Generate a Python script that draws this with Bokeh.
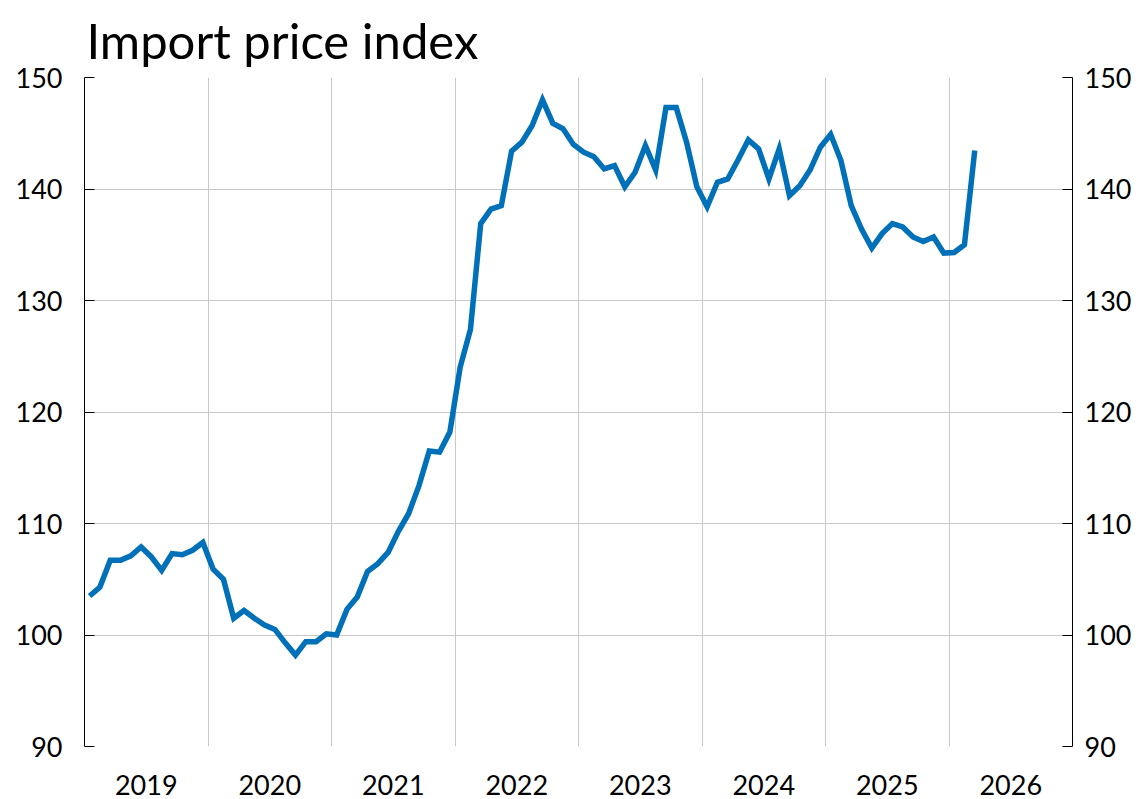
import pandas as pd
from bokeh.plotting import figure
from bokeh.models import LinearAxis, FixedTicker, Range1d
from bokeh.embed import file_html
from bokeh.resources import INLINE

# ---- data ----
months = [str(p) for p in pd.period_range("2019-01", periods=87, freq="M")]
import_price_index = [
    103.5, 104.3, 106.7, 106.7, 107.1, 107.9, 107.0, 105.8, 107.3, 107.2, 107.6, 108.3,   # 2019
    105.9, 105.0, 101.5, 102.2, 101.5, 100.9, 100.5, 99.3, 98.2, 99.4, 99.4, 100.1,       # 2020
    100.0, 102.3, 103.4, 105.7, 106.4, 107.4, 109.3, 110.9, 113.4, 116.5, 116.4, 118.2,   # 2021
    124.0, 127.4, 136.9, 138.2, 138.5, 143.4, 144.2, 145.7, 148.0, 145.9, 145.4, 144.0,   # 2022
    143.3, 142.9, 141.8, 142.1, 140.2, 141.5, 143.9, 141.7, 147.3, 147.3, 144.2, 140.2,   # 2023
    138.4, 140.6, 140.9, 142.6, 144.4, 143.6, 140.9, 143.6, 139.4, 140.3, 141.7, 143.75,  # 2024
    144.9, 142.55, 138.5, 136.4, 134.7, 136.0, 136.9, 136.6, 135.7, 135.3, 135.7, 134.25, # 2025
    134.3, 135.0, 143.45,                                                                 # 2026
]
year_labels = ["2019", "2020", "2021", "2022", "2023", "2024", "2025", "2026"]
y_ticks = [90, 100, 110, 120, 130, 140, 150]
title_text = "Import price index"

# month positions in fractional years (mid-month)
x = [int(m[:4]) + (int(m[5:7]) - 0.5) / 12 for m in months]
years = [int(y) for y in year_labels]

FONT = "Lato"
BLUE = "#0070b8"
GRID = "#c8c8c8"

p = figure(width=1147, height=799,
           x_range=Range1d(years[0], years[-1] + 1),
           y_range=Range1d(y_ticks[0], y_ticks[-1]),
           output_backend="svg", toolbar_location=None,
           y_axis_location=None, x_axis_location=None,
           min_border_left=84, min_border_right=75,
           min_border_top=77, min_border_bottom=53)
p.outline_line_color = None
p.background_fill_color = "white"
p.border_fill_color = "white"

p.title.text = title_text
p.title.text_font = FONT
p.title.text_font_size = "49px"
p.title.text_font_style = "normal"
p.title.text_color = "black"
p.title.offset = 2
p.title.standoff = 17

# left & right y axes
for loc in ("left", "right"):
    ax = LinearAxis(ticker=FixedTicker(ticks=y_ticks))
    ax.axis_line_color = "black"
    ax.axis_line_width = 1
    ax.major_tick_in = 10
    ax.major_tick_out = 0
    ax.major_tick_line_color = "black"
    ax.minor_tick_line_color = None
    ax.major_label_text_font = FONT
    ax.major_label_text_font_size = "27px"
    ax.major_label_text_color = "black"
    ax.major_label_standoff = 22 if loc == "left" else 12
    p.add_layout(ax, loc)

# bottom axis: year labels centered in each year
xa = LinearAxis(ticker=FixedTicker(ticks=[y + 0.5 for y in years]))
xa.major_label_overrides = {y + 0.5: lbl for y, lbl in zip(years, year_labels)}
xa.axis_line_color = None
xa.major_tick_line_color = None
xa.minor_tick_line_color = None
xa.major_label_text_font = FONT
xa.major_label_text_font_size = "27px"
xa.major_label_text_color = "black"
xa.major_label_standoff = 22
p.add_layout(xa, "below")

# grids
p.xgrid.ticker = FixedTicker(ticks=years[1:] + [years[-1] + 1])
p.ygrid.ticker = FixedTicker(ticks=y_ticks)
for g in (p.xgrid, p.ygrid):
    g.grid_line_color = GRID
    g.grid_line_width = 1

p.line(x, import_price_index, line_color=BLUE, line_width=5.5, line_join="miter")

open("out.html", "w").write(file_html(p, INLINE))
